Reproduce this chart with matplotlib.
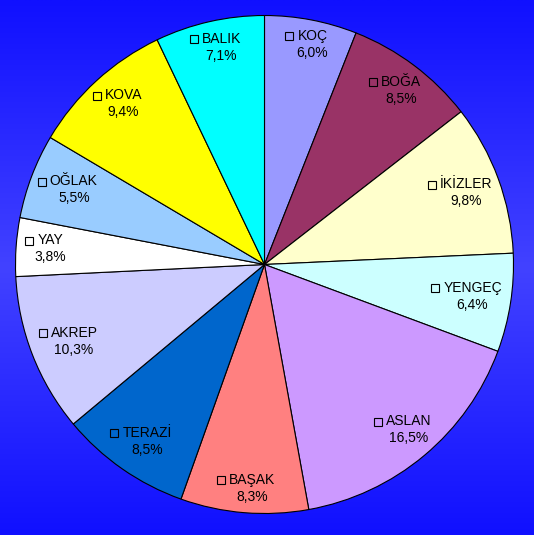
import numpy as np
import matplotlib
matplotlib.use("Agg")
import matplotlib.pyplot as plt
from matplotlib.patches import Rectangle

plt.rcParams['font.family'] = ['Liberation Sans', 'DejaVu Sans']

signs = ["KOÇ", "BOĞA", "İKİZLER", "YENGEÇ", "ASLAN", "BAŞAK",
         "TERAZİ", "AKREP", "YAY", "OĞLAK", "KOVA", "BALIK"]
shares = [6.0, 8.5, 9.8, 6.4, 16.5, 8.3, 8.5, 10.3, 3.8, 5.5, 9.4, 7.1]
colors = ["#9999FF", "#993366", "#FFFFCC", "#CCFFFF", "#CC99FF", "#FF8080",
          "#0066CC", "#CCCCFF", "#FFFFFF", "#99CCFF", "#FFFF00", "#00FFFF"]

W, H = 534, 535
fig = plt.figure(figsize=(W / 100, H / 100), dpi=100)
ax = fig.add_axes([0, 0, 1, 1])

# background gradient (dark at top/bottom, lighter in middle)
t = np.linspace(0, 1, 256)
g = 1 - np.abs(t - 0.5) * 2
top = np.array([0x10, 0x10, 0xFF]) / 255
mid = np.array([0x42, 0x42, 0xFF]) / 255
grad = top[None, :] + (mid - top)[None, :] * g[:, None]
ax.imshow(grad[:, None, :], extent=[0, W, 0, H], aspect='auto', zorder=0,
          interpolation='bilinear')

cx, cy, R = 264.5, H - 264.5, 249
wedges, _ = ax.pie(shares, colors=colors, startangle=90, counterclock=False,
                   radius=R, center=(cx, cy), frame=True,
                   wedgeprops=dict(edgecolor='black', linewidth=0.8))
for w in wedges:
    w.set_zorder(2)
ax.set_xlim(0, W)
ax.set_ylim(0, H)
ax.set_aspect('auto')
ax.axis('off')

fig.canvas.draw()
r = fig.canvas.get_renderer()
S, GAP, BH, LINE = 8, 4, 28, 8.5
for w, name, val in zip(wedges, signs, shares):
    th = np.deg2rad((w.theta1 + w.theta2) / 2)
    ux, uy = np.cos(th), np.sin(th)
    t1 = ax.text(0, 0, name, ha='center', va='center', fontsize=10,
                 color='black', zorder=5)
    tw = t1.get_window_extent(renderer=r).width
    bw = S + GAP + tw
    d = 240 - (bw / 2 * abs(ux) + BH / 2 * abs(uy)) + 5 * abs(np.sin(2 * th))
    bx = cx + d * ux
    by = cy + d * uy
    left = bx - bw / 2
    nx = left + S + GAP + tw / 2
    t1.set_position((nx, by + LINE))
    ax.text(nx, by - LINE, f"{val:.1f}%".replace('.', ','), ha='center',
            va='center', fontsize=10, color='black', zorder=5)
    ax.add_patch(Rectangle((left, by + LINE - S / 2 - 0.5), S, S, facecolor='none',
                           edgecolor='black', linewidth=0.8, zorder=5))

fig.savefig("out.png", dpi=100)
